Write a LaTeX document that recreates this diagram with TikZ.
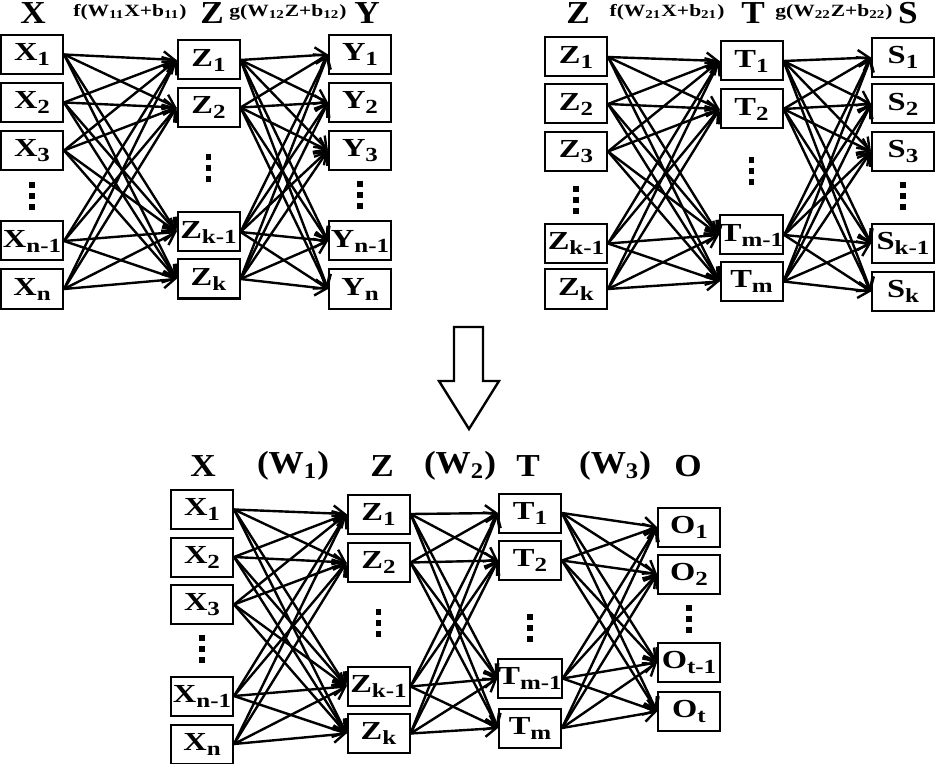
\documentclass[tikz,border=0pt]{standalone}
\usepackage{fontspec}
\setmainfont[FakeStretch=1.25]{Liberation Serif}
\newfontfamily\narrowserif[FakeStretch=1.1]{Liberation Serif}
\usetikzlibrary{arrows.meta}
\newcommand{\unitfont}{\fontsize{13}{14}\selectfont\bfseries}
\newcommand{\headfont}{\narrowserif\fontsize{16}{17}\selectfont\bfseries}
\newcommand{\mapfont}{\fontsize{8.6}{9}\selectfont\bfseries}
\newcommand{\sbs}[1]{\textsubscript{#1}}
\newcommand{\usub}[1]{\raisebox{-2.5pt}{\fontsize{10}{10}\selectfont#1}}

\begin{document}
\begin{tikzpicture}[x=0.5pt,y=-0.5pt,>={Straight Barb[length=5.5pt,width=8pt]},line cap=round,
 unit/.style={draw,line width=1pt,minimum width=31pt,minimum height=19.5pt,inner sep=0pt,font=\unitfont},
 head/.style={font=\headfont},
 map/.style={font=\mapfont},
 link/.style={->,line width=1.2pt}]
 \useasboundingbox (0,0) rectangle (935,764);
 % top left: X -> Z -> Y
 \foreach \i/\y/\s in {1/54.5/1,2/102.5/2,3/150.5/3,a/241/n-1,n/289/n}{
  \node[unit] (lx\i) at (32,\y) {X\usub{\s}};
  \node[unit] (ly\i) at (360,\y) {Y\usub{\s}};}
 \foreach \i/\y/\s in {1/60/1,2/107.5/2,a/232/k-1,k/279/k}
  \node[unit] (lz\i) at (208.5,\y) {Z\usub{\s}};
 \foreach \a in {1,2,3,a,n}
  \foreach \b in {1,2,a,k}{
   \draw[link] (lx\a.east) -- (lz\b.west);
   \draw[link] (lz\b.east) -- (ly\a.west);}
 \node[head] (lxh) at (33,13) {X};
 \node[map] (lfh) at (130,12) {f(W\sbs{11}X+b\sbs{11})};
 \node[head] (lzh) at (212,13) {Z};
 \node[map] (lgh) at (288,12) {g(W\sbs{12}Z+b\sbs{12})};
 \node[head] (lyh) at (367,13) {Y};
 % top right: Z -> T -> S
 \foreach \i/\y/\s in {1/57/1,2/104/2,3/151.5/3,a/243.5/k-1,k/289/k}
  \node[unit] (rz\i) at (576,\y) {Z\usub{\s}};
 \foreach \i/\y/\s in {1/57.5/1,2/104/2,3/151.5/3,a/243.5/k-1,k/291.5/k}
  \node[unit] (rs\i) at (903,\y) {S\usub{\s}};
 \foreach \i/\y/\s in {1/61/1,2/109/2,a/235/m-1,m/281.5/m}
  \node[unit] (rt\i) at (751.5,\y) {T\usub{\s}};
 \foreach \a in {1,2,3,a,k}
  \foreach \b in {1,2,a,m}{
   \draw[link] (rz\a.east) -- (rt\b.west);
   \draw[link] (rt\b.east) -- (rs\a.west);}
 \node[head] (rzh) at (578,13) {Z};
 \node[map] (rfh) at (667,12) {f(W\sbs{21}X+b\sbs{21})};
 \node[head] (rth) at (753,13) {T};
 \node[map] (rgh) at (834,12) {g(W\sbs{22}Z+b\sbs{22})};
 \node[head] (rsh) at (908,13) {S};
 % stacking arrow
 \draw[line width=1.2pt,line join=miter] (454,327) -- (483,327) -- (483,381) -- (499,381)
  -- (469,429) -- (439,381) -- (454,381) -- cycle;
 % bottom: X -> Z -> T -> O
 \foreach \i/\y/\s in {1/509.5/1,2/557/2,3/604.5/3,a/696/n-1,n/744/n}
  \node[unit] (bx\i) at (202,\y) {X\usub{\s}};
 \foreach \i/\y/\s in {1/514/1,2/562.5/2,a/686.5/k-1,k/733.5/k}
  \node[unit] (bz\i) at (378.5,\y) {Z\usub{\s}};
 \foreach \i/\y/\s in {1/513/1,2/560.5/2,a/678.5/m-1,m/728/m}
  \node[unit] (bt\i) at (530,\y) {T\usub{\s}};
 \foreach \i/\y/\s in {1/527/1,2/574/2,a/662.5/t-1,t/711.5/t}
  \node[unit] (bo\i) at (689,\y) {O\usub{\s}};
 \foreach \a in {1,2,3,a,n}
  \foreach \b in {1,2,a,k}
   \draw[link] (bx\a.east) -- (bz\b.west);
 \foreach \a in {1,2,a,k}
  \foreach \b in {1,2,a,m}
   \draw[link] (bz\a.east) -- (bt\b.west);
 \foreach \a in {1,2,a,m}
  \foreach \b in {1,2,a,t}
   \draw[link] (bt\a.east) -- (bo\b.west);
 \node[head] (bxh) at (203,466) {X};
 \node[head] (bw1) at (293,466) {(W\sbs{1})};
 \node[head] (bzh) at (382,466) {Z};
 \node[head] (bw2) at (460,466) {(W\sbs{2})};
 \node[head] (bth) at (528,466) {T};
 \node[head] (bw3) at (615,466) {(W\sbs{3})};
 \node[head] (boh) at (688,466) {O};
 % vertical dots
 \foreach \p in {(32,196),(208.5,168),(360,195),(576,200),(751.5,171),(903,196),
   (202,649),(378.5,623),(530,628),(689,619)}
  \foreach \d in {-11,0,11}
   \fill[shift={\p}] (-2.8,\d-2.8) rectangle ++(5.6,5.6);
\end{tikzpicture}
\end{document}
